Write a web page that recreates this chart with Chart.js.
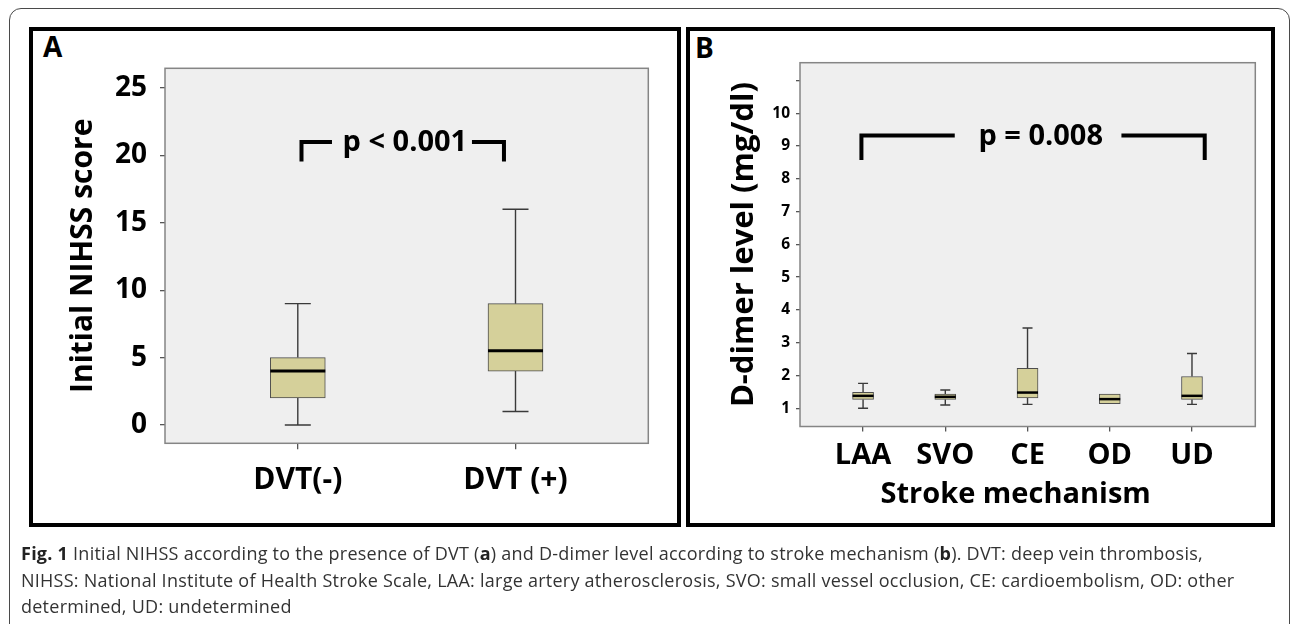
<!DOCTYPE html>
<html><head><meta charset="utf-8">
<script src="https://cdn.jsdelivr.net/npm/chart.js@4.4.1/dist/chart.umd.min.js"></script>
<style>
html,body{margin:0;padding:0;background:#fff;}
body{width:1290px;height:624px;position:relative;overflow:hidden;font-family:'Open Sans',sans-serif;}
#outer{position:absolute;left:9px;top:8px;width:1281px;height:700px;border:1.5px solid #4a4a4a;border-radius:12px;box-sizing:border-box;}
.panel{position:absolute;border:4px solid #000;box-sizing:border-box;}
#pA{left:29px;top:27px;width:652px;height:500px;}
#pB{left:686px;top:27px;width:589px;height:500px;}
.lbl{position:absolute;font-weight:700;font-size:28px;line-height:28px;color:#000;}
canvas{position:absolute;left:0;top:0;}
#cap{position:absolute;left:21px;top:540px;font-size:18px;letter-spacing:0.25px;line-height:26.5px;color:#333;white-space:nowrap;}
#cap b{color:#222;}
</style></head>
<body>
<div id="outer"></div>
<div class="panel" id="pA"></div>
<div class="panel" id="pB"></div>
<div class="lbl" style="left:43px;top:32px;">A</div>
<div class="lbl" style="left:695px;top:33px;">B</div>
<canvas id="cA" width="1290" height="624"></canvas>
<canvas id="cB" width="1290" height="624"></canvas>
<div id="cap"><span><b>Fig. 1</b> Initial NIHSS according to the presence of DVT (<b>a</b>) and D-dimer level according to stroke mechanism (<b>b</b>). DVT: deep vein thrombosis,</span><br><span>NIHSS: National Institute of Health Stroke Scale, LAA: large artery atherosclerosis, SVO: small vessel occlusion, CE: cardioembolism, OD: other</span><br><span>determined, UD: undetermined</span></div>
<script>
// ---------- Panel A: Initial NIHSS by DVT ----------
const catsA = ['DVT(-)', 'DVT (+)'];
const minA  = [0, 1];
const q1A   = [2, 4];
const medA  = [4, 5.5];
const q3A   = [5, 9];
const maxA  = [9, 16];
const yTicksA = [0, 5, 10, 15, 20, 25];
const pTextA = 'p < 0.001';

// ---------- Panel B: D-dimer by stroke mechanism ----------
const catsB = ['LAA', 'SVO', 'CE', 'OD', 'UD'];
const minB  = [1.00, 1.10, 1.12, 1.14, 1.12];
const q1B   = [1.27, 1.27, 1.32, 1.14, 1.27];
const medB  = [1.38, 1.35, 1.48, 1.28, 1.38];
const q3B   = [1.49, 1.43, 2.22, 1.43, 1.97];
const maxB  = [1.76, 1.56, 3.45, 1.43, 2.67];
const yTicksB = [1, 2, 3, 4, 5, 6, 7, 8, 9, 10, 11];
const yTickLabelsB = ['1', '2', '3', '4', '5', '6', '7', '8', '9', '10', ''];
const pTextB = 'p = 0.008';

Chart.defaults.font.family = "'Open Sans', sans-serif";
Chart.defaults.color = '#000';

function boxPlugin(cfg) {
  return {
    id: 'box_' + cfg.name,
    beforeDraw(chart) {
      const {ctx, chartArea: a} = chart;
      ctx.save();
      ctx.fillStyle = '#efefef';
      ctx.fillRect(a.left, a.top, a.right - a.left, a.bottom - a.top);
      ctx.restore();
    },
    beforeDatasetsDraw(chart) {
      const {ctx, scales: {x, y}} = chart;
      ctx.save();
      ctx.strokeStyle = '#3a3a3a';
      ctx.lineWidth = cfg.whiskerWidth;
      cfg.min.forEach((mn, i) => {
        const px = x.getPixelForValue(i);
        const yLo = y.getPixelForValue(mn), yHi = y.getPixelForValue(cfg.max[i]);
        ctx.beginPath();
        if (mn < cfg.q1[i]) {
          ctx.moveTo(px, yLo); ctx.lineTo(px, y.getPixelForValue(cfg.q1[i]));
          ctx.moveTo(px - cfg.cap / 2, yLo); ctx.lineTo(px + cfg.cap / 2, yLo);
        }
        if (cfg.max[i] > cfg.q3[i]) {
          ctx.moveTo(px, yHi); ctx.lineTo(px, y.getPixelForValue(cfg.q3[i]));
          ctx.moveTo(px - cfg.cap / 2, yHi); ctx.lineTo(px + cfg.cap / 2, yHi);
        }
        ctx.stroke();
      });
      ctx.restore();
    },
    afterDatasetsDraw(chart) {
      const {ctx, scales: {x, y}} = chart;
      ctx.save();
      ctx.strokeStyle = '#000';
      ctx.lineWidth = cfg.medianWidth;
      cfg.med.forEach((m, i) => {
        const px = x.getPixelForValue(i), py = y.getPixelForValue(m);
        ctx.beginPath();
        ctx.moveTo(px - cfg.boxWidth / 2, py); ctx.lineTo(px + cfg.boxWidth / 2, py);
        ctx.stroke();
      });
      ctx.restore();
    },
    afterDraw(chart) {
      const {ctx, chartArea: a, scales: {x, y}} = chart;
      ctx.save();
      // plot frame
      ctx.strokeStyle = '#858585';
      ctx.lineWidth = 1.5;
      ctx.strokeRect(a.left, a.top, a.right - a.left, a.bottom - a.top);
      // significance bracket
      const b = cfg.bracket;
      const x0 = x.getPixelForValue(b.x0), x1 = x.getPixelForValue(b.x1);
      const xl = x.getPixelForValue(b.leftEnd), xr = x.getPixelForValue(b.rightStart);
      const yt = y.getPixelForValue(b.yTop), yb = y.getPixelForValue(b.yBottom);
      ctx.strokeStyle = '#000';
      ctx.lineWidth = 4;
      ctx.lineJoin = 'miter';
      ctx.lineCap = 'butt';
      ctx.beginPath();
      ctx.moveTo(x0, yb); ctx.lineTo(x0, yt); ctx.lineTo(xl, yt);
      ctx.moveTo(xr, yt); ctx.lineTo(x1, yt); ctx.lineTo(x1, yb);
      ctx.stroke();
      ctx.fillStyle = '#000';
      ctx.font = 'bold ' + b.fontSize + 'px "Open Sans", sans-serif';
      ctx.textAlign = 'center';
      ctx.textBaseline = 'alphabetic';
      ctx.fillText(b.text, x.getPixelForValue(b.textX), yt + b.baselineShift);
      // x-axis title (optional)
      if (cfg.xTitle) {
        ctx.font = 'bold ' + cfg.xTitle.size + 'px "Open Sans", sans-serif';
        ctx.textBaseline = 'middle';
        ctx.fillText(cfg.xTitle.text, (a.left + a.right) / 2 + cfg.xTitle.dx, a.bottom + cfg.xTitle.dy);
      }
      ctx.restore();
    }
  };
}

function fixWidth(w) {
  return s => { s.width = w; s.paddingLeft = s.paddingRight = s.paddingTop = s.paddingBottom = 0; };
}
function fixHeight(h) {
  return s => { s.height = h; s.paddingLeft = s.paddingRight = s.paddingTop = s.paddingBottom = 0; };
}

// ---------------- Chart A ----------------
new Chart(document.getElementById('cA'), {
  type: 'bar',
  data: {
    datasets: [{
      data: catsA.map((c, i) => ({x: i, y: [q1A[i], q3A[i]]})),
      backgroundColor: '#d5d09a',
      borderColor: '#4d4d4d',
      borderWidth: 1,
      borderSkipped: false,
      barThickness: 55
    }]
  },
  options: {
    responsive: false,
    animation: false,
    events: [],
    layout: {padding: {left: 40, top: 68.3, right: 1290 - 648.3, bottom: 624 - 443.3 - 60}},
    plugins: {legend: {display: false}, tooltip: {enabled: false}},
    scales: {
      x: {
        type: 'linear', min: -0.61, max: 1.61, offset: false,
        afterBuildTicks: s => { s.ticks = catsA.map((c, i) => ({value: i})); },
        afterFit: fixHeight(60),
        grid: {offset: false, drawOnChartArea: false, drawTicks: true, tickLength: 6, color: '#555', lineWidth: 1.3},
        border: {display: false},
        ticks: {callback: v => catsA[v], font: {size: 30, weight: 'bold'}, padding: 13, maxRotation: 0, autoSkip: false}
      },
      y: {
        type: 'linear', min: -1.36, max: 26.46,
        afterBuildTicks: s => { s.ticks = yTicksA.map(v => ({value: v})); },
        afterFit: fixWidth(125),
        grid: {drawOnChartArea: false, drawTicks: true, tickLength: 5, color: '#555', lineWidth: 1.3},
        border: {display: false},
        ticks: {font: {size: 28, weight: 'bold'}, padding: 13},
        title: {display: true, text: 'Initial NIHSS score', font: {size: 30, weight: 'bold'}, padding: {top: 25, bottom: 0}}
      }
    }
  },
  plugins: [boxPlugin({
    name: 'A', min: minA, q1: q1A, med: medA, q3: q3A, max: maxA,
    boxWidth: 55, cap: 26, whiskerWidth: 1.4, medianWidth: 3,
    bracket: {x0: 0.017, x1: 0.947, leftEnd: 0.157, rightStart: 0.80, yTop: 21.0, yBottom: 19.55,
              textX: 0.492, text: pTextA, fontSize: 29, baselineShift: 9}
  })]
});

// ---------------- Chart B ----------------
new Chart(document.getElementById('cB'), {
  type: 'bar',
  data: {
    datasets: [{
      data: catsB.map((c, i) => ({x: i, y: [q1B[i], q3B[i]]})),
      backgroundColor: '#d5d09a',
      borderColor: '#4d4d4d',
      borderWidth: 1,
      borderSkipped: false,
      barThickness: 21
    }]
  },
  options: {
    responsive: false,
    animation: false,
    events: [],
    layout: {padding: {left: 700, top: 62.7, right: 1290 - 1255.3, bottom: 624 - 426.5 - 60}},
    plugins: {legend: {display: false}, tooltip: {enabled: false}},
    scales: {
      x: {
        type: 'linear', min: -0.767, max: 4.77, offset: false,
        afterBuildTicks: s => { s.ticks = catsB.map((c, i) => ({value: i})); },
        afterFit: fixHeight(60),
        grid: {offset: false, drawOnChartArea: false, drawTicks: true, tickLength: 5, color: '#555', lineWidth: 1.3},
        border: {display: false},
        ticks: {callback: v => catsB[v], font: {size: 29, weight: 'bold'}, padding: 7, maxRotation: 0, autoSkip: false}
      },
      y: {
        type: 'linear', min: 0.445, max: 11.54,
        afterBuildTicks: s => { s.ticks = yTicksB.map(v => ({value: v})); },
        afterFit: fixWidth(100),
        grid: {drawOnChartArea: false, drawTicks: true, tickLength: 4, color: '#555', lineWidth: 1.3},
        border: {display: false},
        ticks: {callback: (v, i) => yTickLabelsB[i], font: {size: 15.5, weight: 'bold'}, padding: 6},
        title: {display: true, text: 'D-dimer level (mg/dl)', font: {size: 31, weight: 'bold'}, padding: {top: 26, bottom: 0}}
      }
    }
  },
  plugins: [boxPlugin({
    name: 'B', min: minB, q1: q1B, med: medB, q3: q3B, max: maxB,
    boxWidth: 21, cap: 10, whiskerWidth: 1.4, medianWidth: 2.5,
    bracket: {x0: -0.02, x1: 4.155, leftEnd: 1.115, rightStart: 3.142, yTop: 9.32, yBottom: 8.57,
              textX: 2.16, text: pTextB, fontSize: 29, baselineShift: 10},
    xTitle: {text: 'Stroke mechanism', size: 29, dx: -12, dy: 68}
  })]
});
</script>
</body></html>
